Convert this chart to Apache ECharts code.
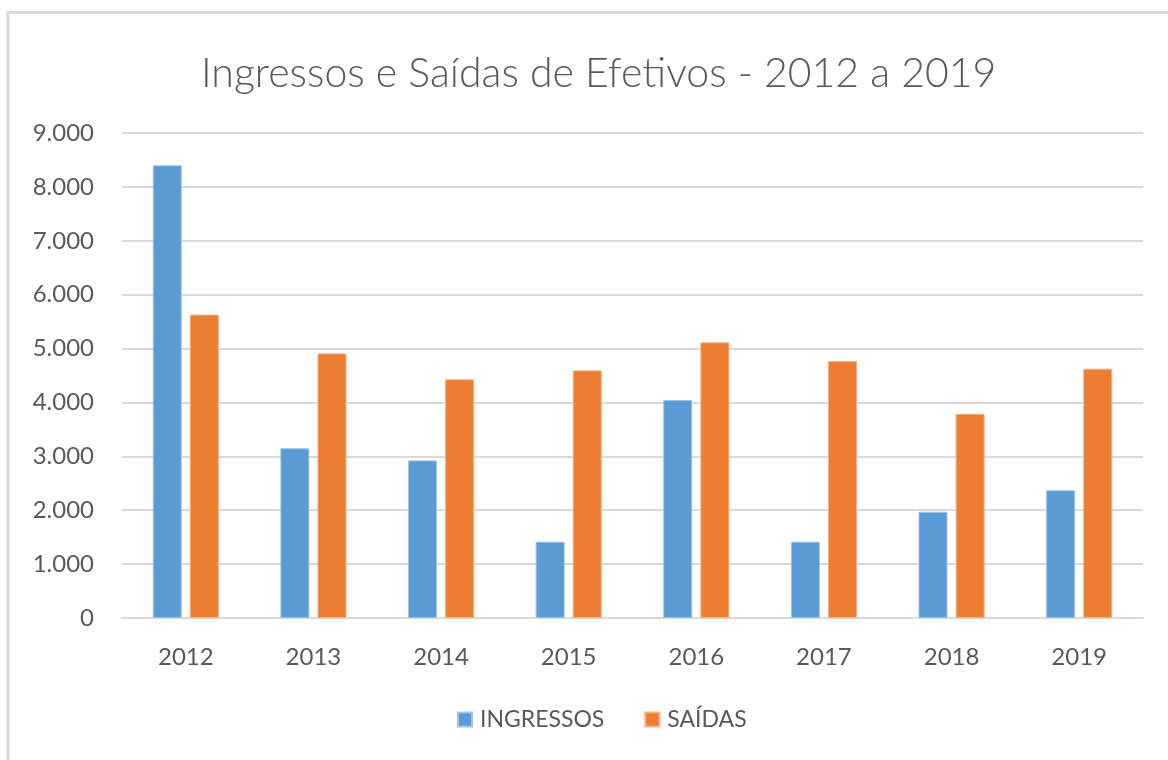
<!DOCTYPE html>
<html>
<head>
<meta charset="utf-8">
<script src="https://cdn.jsdelivr.net/npm/echarts@6/dist/echarts.min.js"></script>
<style>
  html, body { margin: 0; padding: 0; background: #fff; }
  #chart { width: 1168px; height: 760px; }
</style>
</head>
<body>
<div id="chart"></div>
<script>
const anos = ['2012', '2013', '2014', '2015', '2016', '2017', '2018', '2019']
const ingressos = [8400, 3150, 2925, 1416, 4045, 1416, 1973, 2370]
const saidas = [5630, 4910, 4430, 4595, 5115, 4770, 3790, 4625]
const yTicks = [0, 1000, 2000, 3000, 4000, 5000, 6000, 7000, 8000, 9000]

const font = 'Lato, "Open Sans", sans-serif'
const textColor = '#595959'

const chart = echarts.init(document.getElementById('chart'))

function fmt(v) {
  return String(v).replace(/\B(?=(\d{3})+(?!\d))/g, '.')
}

chart.setOption({
  animation: false,
  backgroundColor: '#fff',
  graphic: [
    {
      type: 'rect',
      shape: { x: 8, y: 12.5, width: 1200, height: 800 },
      style: { fill: 'none', stroke: '#d9d9d9', lineWidth: 3 },
      silent: true,
    },
  ],
  title: {
    text: 'Ingressos e Saídas de Efetivos - 2012 a 2019',
    left: 196,
    top: 48,
    textStyle: {
      fontFamily: font,
      fontWeight: 300,
      fontSize: 41,
      color: textColor,
    },
  },
  legend: {
    bottom: 24,
    left: 452,
    itemWidth: 14,
    itemHeight: 14,
    itemGap: 40,
    icon: 'rect',
    textStyle: {
      fontFamily: font,
      fontSize: 23,
      color: textColor,
      padding: [0, 0, 0, 3],
    },
    data: ['INGRESSOS', 'SAÍDAS'],
  },
  grid: { left: 122, right: 25, top: 133, bottom: 142 },
  xAxis: {
    type: 'category',
    data: anos,
    axisTick: { show: false },
    axisLine: { lineStyle: { color: '#d9d9d9', width: 2 } },
    axisLabel: {
      margin: 27,
      fontFamily: font,
      fontSize: 24,
      color: textColor,
    },
  },
  yAxis: {
    type: 'value',
    min: yTicks[0],
    max: yTicks[yTicks.length - 1],
    interval: 1000,
    axisLine: { show: false },
    axisTick: { show: false },
    splitLine: { lineStyle: { color: '#d9d9d9', width: 2 } },
    axisLabel: {
      margin: 28,
      fontFamily: font,
      fontSize: 24,
      color: textColor,
      formatter: fmt,
    },
  },
  series: [
    {
      name: 'INGRESSOS',
      type: 'bar',
      data: ingressos,
      barWidth: 29,
      barGap: '28%',
      itemStyle: { color: '#5b9bd5', borderColor: '#9dc3e6', borderWidth: 1 },
    },
    {
      name: 'SAÍDAS',
      type: 'bar',
      data: saidas,
      barWidth: 29,
      itemStyle: { color: '#ed7d31', borderColor: '#f4b183', borderWidth: 1 },
    },
  ],
})
</script>
</body>
</html>
